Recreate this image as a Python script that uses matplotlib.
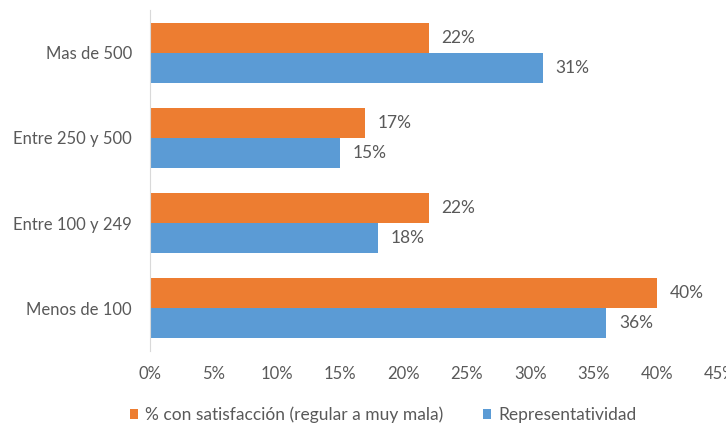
import matplotlib
matplotlib.use("Agg")
import matplotlib.pyplot as plt
from matplotlib.ticker import FuncFormatter

categorias = ["Menos de 100", "Entre 100 y 249", "Entre 250 y 500", "Mas de 500"]
satisfaccion = [40, 22, 17, 22]
representatividad = [36, 18, 15, 31]
serie_nombres = ["% con satisfacción (regular a muy mala)", "Representatividad"]

naranja = "#ED7D31"
azul = "#5B9BD5"
gris = "#595959"

plt.rcParams["font.family"] = ["Lato", "DejaVu Sans"]

fig = plt.figure(figsize=(7.26, 4.24), dpi=100)
# ejes: x de 150 a 720 px, y de 10 a 350 px
ax = fig.add_axes([0.2066, 0.1733, 0.7854, 0.802])

h = 0.353
y = list(range(len(categorias)))
b1 = ax.barh([v + h / 2 for v in y], satisfaccion, height=h, color=naranja, label=serie_nombres[0])
b2 = ax.barh([v - h / 2 for v in y], representatividad, height=h, color=azul, label=serie_nombres[1])

for barras, vals in ((b1, satisfaccion), (b2, representatividad)):
    for bar, v in zip(barras, vals):
        ax.text(bar.get_width() + 1.0, bar.get_y() + bar.get_height() / 2, f"{v}%",
                va="center", ha="left", fontsize=12.5, color=gris)

ax.set_xlim(0, 45)
ax.set_ylim(-0.5, 3.5)
ax.set_xticks(range(0, 50, 5))
ax.xaxis.set_major_formatter(FuncFormatter(lambda x, p: f"{int(x)}%"))
ax.set_yticks(y)
ax.set_yticklabels(categorias)
ax.tick_params(axis="both", length=0, labelsize=12, colors=gris)
ax.tick_params(axis="x", pad=11)
ax.tick_params(axis="y", pad=13)

for s in ("top", "right", "bottom"):
    ax.spines[s].set_visible(False)
ax.spines["left"].set_color("#D9D9D9")

handles = [b1, b2]
fig.legend(handles, serie_nombres, loc="center", bbox_to_anchor=(0.528, 0.021), ncol=2,
           frameon=False, fontsize=12.5, labelcolor=gris, handlelength=0.46, handleheight=0.46,
           columnspacing=2.3, handletextpad=0.4, borderpad=0, borderaxespad=0)

fig.savefig("out.png", dpi=100)
